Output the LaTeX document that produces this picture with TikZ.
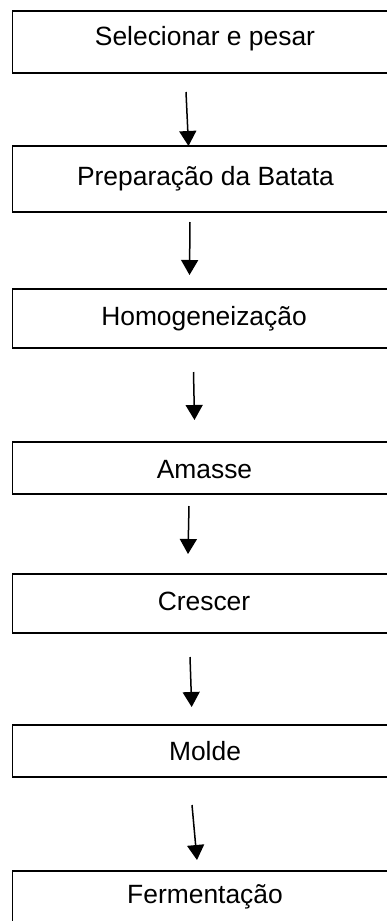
\documentclass[tikz,border=0pt]{standalone}
\usepackage{fontspec}
\setmainfont{Liberation Sans}
\usetikzlibrary{arrows.meta}
\tikzset{
  stepbox/.style={draw=black, line width=1.8pt, fill=none},
  steplabel/.style={anchor=base, inner sep=0pt, font=\fontsize{26.4}{30}\selectfont},
  flow/.style={line width=1.5pt, -{Triangle[length=15pt, width=17pt]}, shorten >=0pt}
}
\begin{document}
\begin{tikzpicture}[x=1pt, y=-1pt]
  \useasboundingbox (0,0) rectangle (387,921);
  \clip (0,0) rectangle (387,921);

  % process boxes (they run past the right and bottom margins)
  \draw[stepbox] (12.5,10.7) rectangle (398,73);
  \draw[stepbox] (12.5,146) rectangle (398,212);
  \draw[stepbox] (12.5,289) rectangle (398,348);
  \draw[stepbox] (12.5,442) rectangle (398,494);
  \draw[stepbox] (12.5,574) rectangle (398,633);
  \draw[stepbox] (12.5,725) rectangle (398,777);
  \draw[stepbox] (12.5,871) rectangle (398,940);

  % step names
  \node[steplabel] (s1) at (205,45)  {Selecionar e pesar};
  \node[steplabel] (s2) at (205.5,185) {Preparação da Batata};
  \node[steplabel] (s3) at (204,325) {Homogeneização};
  \node[steplabel] (s4) at (204.5,478) {Amasse};
  \node[steplabel] (s5) at (204,610) {Crescer};
  \node[steplabel] (s6) at (205,760) {Molde};
  \node[steplabel] (s7) at (205,903) {Fermentação};

  % arrow end points
  \coordinate (a1s) at (186,92);    \coordinate (a1e) at (188.5,146);
  \coordinate (a2s) at (190,222);   \coordinate (a2e) at (189.5,275);
  \coordinate (a3s) at (193.5,372); \coordinate (a3e) at (194.5,420);
  \coordinate (a4s) at (189,506);   \coordinate (a4e) at (188,554);
  \coordinate (a5s) at (190,657);   \coordinate (a5e) at (191.7,707);
  \coordinate (a6s) at (192,805);   \coordinate (a6e) at (197,860);

  \draw[flow] (a1s) -- (a1e);
  \draw[flow] (a2s) -- (a2e);
  \draw[flow] (a3s) -- (a3e);
  \draw[flow] (a4s) -- (a4e);
  \draw[flow] (a5s) -- (a5e);
  \draw[flow] (a6s) -- (a6e);
\end{tikzpicture}
\end{document}
